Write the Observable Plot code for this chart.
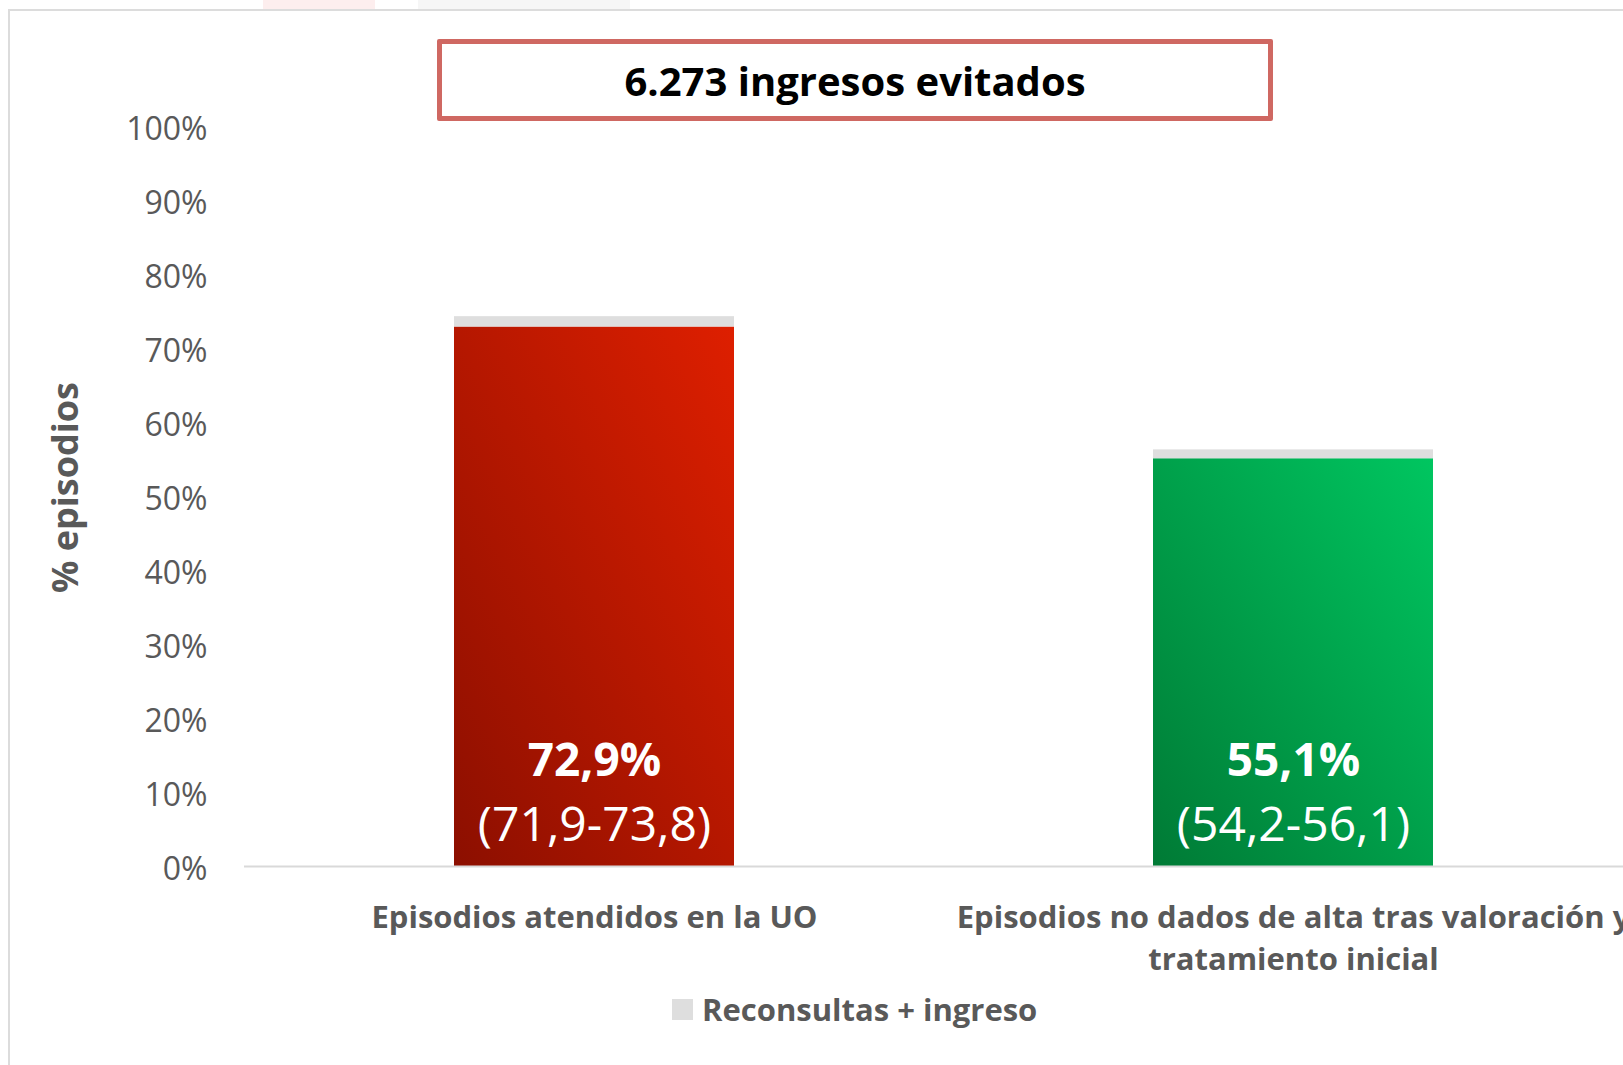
<!DOCTYPE html>
<html>
<head>
<meta charset="utf-8">
<script src="https://cdn.jsdelivr.net/npm/d3@7"></script>
<script src="https://cdn.jsdelivr.net/npm/@observablehq/plot@0.6"></script>
<style>
  html, body { margin: 0; padding: 0; background: #fff; overflow: hidden; }
  #wrap { position: relative; width: 1623px; height: 1065px; overflow: hidden; font-family: "Open Sans", sans-serif; }
  .ghost { position: absolute; top: 0; height: 9px; }
  #frame { position: absolute; left: 8px; top: 9px; width: 1700px; height: 1100px; border: 2px solid #dcdcdc; box-sizing: border-box; }
  #chart { position: absolute; left: 0; top: 0; width: 1650px; height: 1065px; }
  #chart svg { max-width: none !important; }
  #title { position: absolute; left: 437px; top: 39px; width: 836px; height: 82px; box-sizing: border-box;
           border: 5px solid #cf6862; border-radius: 2px; display: flex; align-items: center; justify-content: center;
           font-weight: 700; font-size: 40px; color: #000; background: #fff; }
  #legend { position: absolute; top: 988px; left: 672px; display: flex; align-items: center; gap: 9px;
            font-weight: 700; font-size: 31px; line-height: 42px; color: #595959; }
  #legend .sw { width: 21px; height: 21px; background: #dedede; }
</style>
</head>
<body>
<div id="wrap">
  <div class="ghost" style="left:263px;width:112px;background:#fdeeee;"></div>
  <div class="ghost" style="left:418px;width:212px;background:#f6f6f6;"></div>
  <div id="frame"></div>
  <div id="chart"></div>
  <div id="title"></div>
  <div id="legend"><div class="sw"></div><span id="legendText"></span></div>
</div>
<script>
// ---- data ----
const categories = ["Episodios atendidos en la UO", "Episodios no dados de alta tras valoración y tratamiento inicial"];
const xTickLabels = ["Episodios atendidos en la UO", "Episodios no dados de alta tras valoración y\ntratamiento inicial"];
const mainValues = [72.9, 55.1];
const mainLabels = ["72,9%", "55,1%"];
const ciLabels = ["(71,9-73,8)", "(54,2-56,1)"];
const reconsultasValues = [1.4, 1.2];
const gradientIds = ["gradRed", "gradGreen"];
const yTicks = [0, 10, 20, 30, 40, 50, 60, 70, 80, 90, 100];
const yTitle = "% episodios";
const titleText = "6.273 ingresos evitados";
const legendLabel = "Reconsultas + ingreso";

document.getElementById("title").textContent = titleText;
document.getElementById("legendText").textContent = legendLabel;

const rows = categories.map((c, i) => ({
  cat: c,
  main: mainValues[i],
  rec: reconsultasValues[i],
  fill: `url(#${gradientIds[i]})`,
  label: mainLabels[i],
  ci: ciLabels[i]
}));

const chart = Plot.plot({
  width: 1650,
  height: 1065,
  marginLeft: 244,
  marginRight: 8,
  marginTop: 126,
  marginBottom: 199,
  style: { fontFamily: "Open Sans, sans-serif", background: "transparent", overflow: "visible", maxWidth: "none" },
  x: { domain: categories, paddingInner: 0.6, paddingOuter: 0.3, label: null },
  y: { domain: [0, 100], label: null },
  color: { type: "identity" },
  marks: [
    Plot.barY(rows, { x: "cat", y1: 0, y2: "main", fill: "fill" }),
    Plot.barY(rows, { x: "cat", y1: "main", y2: d => d.main + d.rec, fill: "#dedede" }),
    Plot.ruleY([0], { stroke: "#d9d9d9", strokeWidth: 2 }),
    Plot.axisY({ ticks: yTicks, tickFormat: d => d + "%", tickSize: 0, tickPadding: 37, fontSize: 32, fill: "#595959", dy: 3, label: null }),
    Plot.axisX({ tickSize: 0, tickPadding: 31, tickFormat: d => xTickLabels[categories.indexOf(d)],
                 fontSize: 31, fontWeight: "bold", fill: "#595959", lineHeight: 1.37, label: null }),
    Plot.text([yTitle], { frameAnchor: "left", textAnchor: "middle", rotate: -90, dx: -178, dy: -9, fontSize: 36, fontWeight: "bold", fill: "#595959" }),
    Plot.text(rows, { x: "cat", y: 0, text: "label", dy: -105, fill: "white", fontSize: 46, fontWeight: "bold" }),
    Plot.text(rows, { x: "cat", y: 0, text: "ci", dy: -41, fill: "white", fontSize: 48 })
  ]
});

const defs = d3.select(chart).insert("defs", ":first-child");
const grads = [
  { id: "gradRed", from: "#8c0f00", to: "#de1f00" },
  { id: "gradGreen", from: "#007a35", to: "#00c660" }
];
grads.forEach(g => {
  const lg = defs.append("linearGradient").attr("id", g.id)
    .attr("x1", 0).attr("y1", 1).attr("x2", 1).attr("y2", 0);
  lg.append("stop").attr("offset", "0%").attr("stop-color", g.from);
  lg.append("stop").attr("offset", "100%").attr("stop-color", g.to);
});

document.getElementById("chart").appendChild(chart);
</script>
</body>
</html>
